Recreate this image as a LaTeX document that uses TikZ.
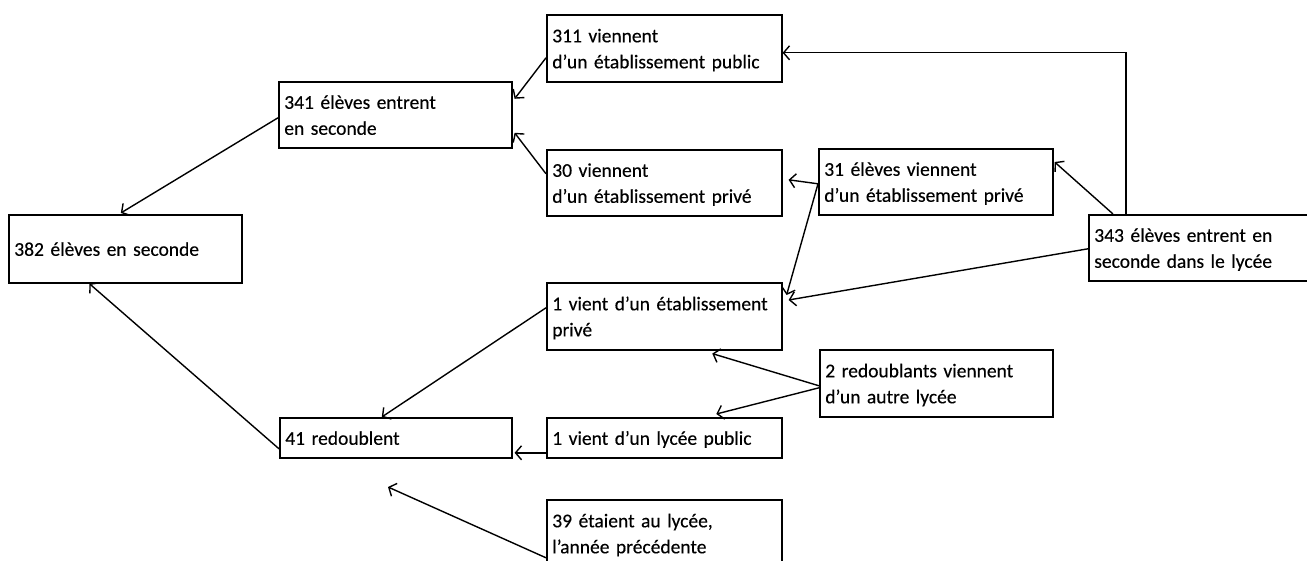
\documentclass[tikz,border=0pt]{standalone}
\usepackage{fontspec}
\setmainfont{Carlito}
\newfontfamily\boxfont{Carlito}[FakeBold=0.3]
\usetikzlibrary{arrows.meta,calc}
\newcommand\topstr{\rule{0pt}{20pt}}
\newcommand\botstr{\rule[-6pt]{0pt}{6pt}}
\begin{document}
\begin{tikzpicture}[x=1pt,y=-1pt,
  box/.style 2 args={draw, line width=1.6pt, rectangle, anchor=north west,
    inner xsep=5.5pt, inner ysep=0pt, text width=#1-11pt, minimum height=#2,
    align=left, font=\boxfont\fontsize{19.5}{26}\selectfont},
  arr/.style={line width=1.4pt, -{Straight Barb[length=6pt,width=14pt]}}]
\useasboundingbox (0,0) rectangle (1307,561);
\clip (0,0) rectangle (1307,561);
\fill[white] (0,0) rectangle (1307,561);

\node[box={235pt}{67pt}] (A) at (546,14) {\topstr 311 viennent\\d’un établissement public\botstr};
\node[box={233pt}{66pt}] (B) at (278,81) {\topstr 341 élèves entrent\\en seconde\botstr};
\node[box={235pt}{66pt}] (C) at (546,149) {\topstr 30 viennent\\d’un établissement privé\botstr};
\node[box={234pt}{66pt}] (D) at (818,148) {\topstr 31 élèves viennent\\d’un établissement privé\botstr};
\node[box={233pt}{68pt}] (E) at (8,214) {\topstr 382 élèves en seconde\botstr};
\node[box={242pt}{66pt}] (F) at (1088,214) {\topstr 343 élèves entrent en\\seconde dans le lycée\botstr};
\node[box={235pt}{67pt}] (G) at (546,282) {\topstr 1 vient d’un établissement\\privé\botstr};
\node[box={233pt}{67pt}] (H) at (819,349) {\topstr 2 redoublants viennent\\d’un autre lycée\botstr};
\node[box={232pt}{40pt}] (I) at (279,417) {\topstr 41 redoublent\botstr};
\node[box={235pt}{40pt}] (J) at (546,417) {\topstr 1 vient d’un lycée public\botstr};
\node[box={235pt}{67pt}] (K) at (546,499) {\topstr 39 étaient au lycée,\\l’année précédente\botstr};
\coordinate (free) at (388,487);

\draw[arr] ($(F.north west)+(38,0)$) |- ($(A.east)+(0,4.5)$);
\draw[arr] ($(F.north west)+(25,0)$) -- ($(D.north east)+(1,14)$);
\draw[arr] ($(D.west)+(0,2)$) -- ($(C.east)+(6,-3)$);
\draw[arr] ($(D.west)+(0,2)$) -- ($(G.north east)+(4,13)$);
\draw[arr] ($(F.west)+(0,1)$) -- ($(G.north east)+(6,18)$);
\draw[arr] ($(A.west)+(0,9.5)$) -- ($(B.east)+(2,-16)$);
\draw[arr] ($(C.west)+(0,-9)$) -- ($(B.east)+(2,18)$);
\draw[arr] ($(B.west)+(0,3)$) -- ($(E.north)+(-4.5,-1)$);
\draw[arr] ($(I.west)+(0,11)$) -- ($(E.south)+(-36,0)$);
\draw[arr] ($(G.west)+(0,-8.5)$) -- ($(I.north)+(-14,0)$);
\draw[arr] ($(J.west)+(0,15)$) -- ($(I.east)+(2,15)$);
\draw[arr] ($(H.west)+(0,2.5)$) -- ($(G.south)+(48,3)$);
\draw[arr] ($(H.west)+(0,4.5)$) -- ($(J.north)+(52,-3)$);
\draw[arr] ($(K.west)+(0,24.5)$) -- (free);
\end{tikzpicture}
\end{document}
